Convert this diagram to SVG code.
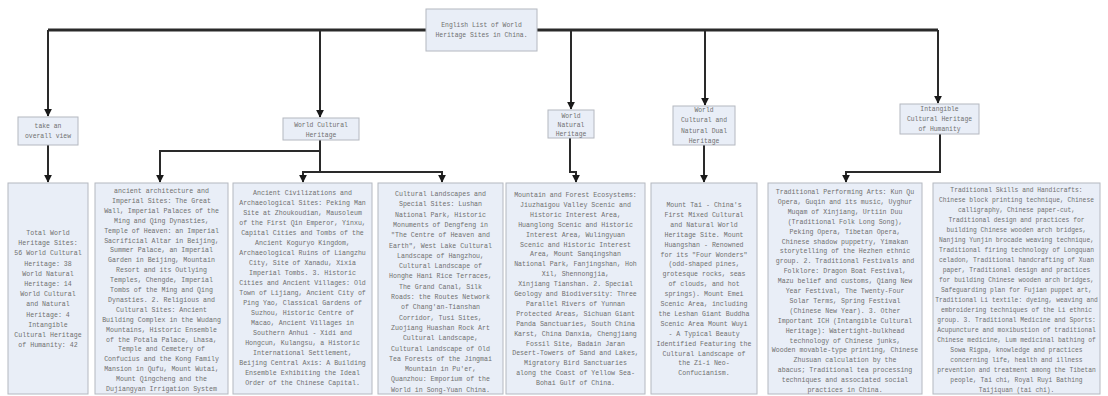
<svg xmlns="http://www.w3.org/2000/svg" width="1108" height="396" viewBox="0 0 1108 396">
<style>
.box{fill:#e9eef7;stroke:#b4b8c0;stroke-width:1}
.t{font-family:"Liberation Mono",monospace;font-size:6.6px;fill:#707070;text-anchor:middle}
.h{font-family:"Liberation Mono",monospace;font-size:6.4px;fill:#707070;text-anchor:middle}
.bus{fill:none;stroke:#2a2a2a;stroke-width:3}
.c{fill:none;stroke:#2a2a2a;stroke-width:2}
</style>
<defs>
<marker id="ah" viewBox="0 0 10 10" refX="9" refY="5" markerWidth="4" markerHeight="4" orient="auto" markerUnits="strokeWidth">
<path d="M0,0 L10,5 L0,10 z" fill="#1a1a1a"/>
</marker>
</defs>
<rect width="1108" height="396" fill="#ffffff"/>
<g id="connectors">
<path class="bus" d="M48,30 H426"/>
<path class="bus" d="M537,30 H938"/>
<path class="c" d="M48,30 V116" marker-end="url(#ah)"/>
<path class="c" d="M320,30 V117" marker-end="url(#ah)"/>
<path class="c" d="M571,30 V109" marker-end="url(#ah)"/>
<path class="c" d="M705,30 V105" marker-end="url(#ah)"/>
<path class="c" d="M938,30 V103" marker-end="url(#ah)"/>
<path class="c" d="M48,145 V182" marker-end="url(#ah)"/>
<path class="c" d="M320,140 V151 H160 V182" marker-end="url(#ah)"/>
<path class="c" d="M320,140 V172 H303 V182" marker-end="url(#ah)"/>
<path class="c" d="M320,172 H442 V182" marker-end="url(#ah)"/>
<path class="c" d="M570,138 V172 H576 V182" marker-end="url(#ah)"/>
<path class="c" d="M704,145 V182" marker-end="url(#ah)"/>
<path class="c" d="M940,134 V172 H846 V182" marker-end="url(#ah)"/>
</g>
<g id="root">
<rect class="box" x="426" y="9" width="111" height="42"/>
<text class="h" x="481.5" y="27"><tspan x="481.5">English List of World</tspan><tspan x="481.5" dy="10">Heritage Sites in China.</tspan></text>
</g>
<g id="n-overall">
<rect class="box" x="18" y="117" width="60" height="28"/>
<text class="h" x="48" y="128"><tspan x="48">take an</tspan><tspan x="48" dy="10">overall view</tspan></text>
</g>
<g id="n-cultural">
<rect class="box" x="283" y="118" width="76" height="22"/>
<text class="h" x="321" y="127"><tspan x="321">World Cultural</tspan><tspan x="321" dy="9.5">Heritage</tspan></text>
</g>
<g id="n-natural">
<rect class="box" x="548" y="110" width="46" height="28"/>
<text class="h" x="571" y="118"><tspan x="571">World</tspan><tspan x="571" dy="9">Natural</tspan><tspan x="571" dy="9">Heritage</tspan></text>
</g>
<g id="n-dual">
<rect class="box" x="673" y="106" width="62" height="39"/>
<text class="h" x="704" y="112"><tspan x="704">World</tspan><tspan x="704" dy="10">Cultural and</tspan><tspan x="704" dy="11">Natural Dual</tspan><tspan x="704" dy="10">Heritage</tspan></text>
</g>
<g id="n-intangible">
<rect class="box" x="900" y="104" width="79" height="30"/>
<text class="h" x="939.5" y="111"><tspan x="939.5">Intangible</tspan><tspan x="939.5" dy="9.5">Cultural Heritage</tspan><tspan x="939.5" dy="10">of Humanity</tspan></text>
</g>
<g id="leaf-total">
<rect class="box" x="8" y="183" width="80" height="211"/>
<text class="t" x="48" y="235"><tspan x="48">Total World</tspan><tspan x="48" dy="10.2">Heritage Sites:</tspan><tspan x="48" dy="10.2">56 World Cultural</tspan><tspan x="48" dy="10.2">Heritage: 38</tspan><tspan x="48" dy="10.2">World Natural</tspan><tspan x="48" dy="10.2">Heritage: 14</tspan><tspan x="48" dy="10.2">World Cultural</tspan><tspan x="48" dy="10.2">and Natural</tspan><tspan x="48" dy="10.2">Heritage: 4</tspan><tspan x="48" dy="10.2">Intangible</tspan><tspan x="48" dy="10.2">Cultural Heritage</tspan><tspan x="48" dy="10.2">of Humanity: 42</tspan></text>
</g>
<g id="leaf-architecture">
<rect class="box" x="95" y="183" width="133" height="211"/>
<text class="t" x="161.5" y="193"><tspan x="161.5">ancient architecture and</tspan><tspan x="161.5" dy="9.9">Imperial Sites: The Great</tspan><tspan x="161.5" dy="9.9">Wall, Imperial Palaces of the</tspan><tspan x="161.5" dy="9.9">Ming and Qing Dynasties,</tspan><tspan x="161.5" dy="9.9">Temple of Heaven: an Imperial</tspan><tspan x="161.5" dy="9.9">Sacrificial Altar in Beijing,</tspan><tspan x="161.5" dy="9.9">Summer Palace, an Imperial</tspan><tspan x="161.5" dy="9.9">Garden in Beijing, Mountain</tspan><tspan x="161.5" dy="9.9">Resort and its Outlying</tspan><tspan x="161.5" dy="9.9">Temples, Chengde, Imperial</tspan><tspan x="161.5" dy="9.9">Tombs of the Ming and Qing</tspan><tspan x="161.5" dy="9.9">Dynasties. 2. Religious and</tspan><tspan x="161.5" dy="9.9">Cultural Sites: Ancient</tspan><tspan x="161.5" dy="9.9">Building Complex in the Wudang</tspan><tspan x="161.5" dy="9.9">Mountains, Historic Ensemble</tspan><tspan x="161.5" dy="9.9">of the Potala Palace, Lhasa,</tspan><tspan x="161.5" dy="9.9">Temple and Cemetery of</tspan><tspan x="161.5" dy="9.9">Confucius and the Kong Family</tspan><tspan x="161.5" dy="9.9">Mansion in Qufu, Mount Wutai,</tspan><tspan x="161.5" dy="9.9">Mount Qingcheng and the</tspan><tspan x="161.5" dy="9.9">Dujiangyan Irrigation System</tspan></text>
</g>
<g id="leaf-civilizations">
<rect class="box" x="233" y="183" width="139" height="211"/>
<text class="t" x="302.5" y="195"><tspan x="302.5">Ancient Civilizations and</tspan><tspan x="302.5" dy="10">Archaeological Sites: Peking Man</tspan><tspan x="302.5" dy="10">Site at Zhoukoudian, Mausoleum</tspan><tspan x="302.5" dy="10">of the First Qin Emperor, Yinxu,</tspan><tspan x="302.5" dy="10">Capital Cities and Tombs of the</tspan><tspan x="302.5" dy="10">Ancient Koguryo Kingdom,</tspan><tspan x="302.5" dy="10">Archaeological Ruins of Liangzhu</tspan><tspan x="302.5" dy="10">City, Site of Xanadu, Xixia</tspan><tspan x="302.5" dy="10">Imperial Tombs. 3. Historic</tspan><tspan x="302.5" dy="10">Cities and Ancient Villages: Old</tspan><tspan x="302.5" dy="10">Town of Lijiang, Ancient City of</tspan><tspan x="302.5" dy="10">Ping Yao, Classical Gardens of</tspan><tspan x="302.5" dy="10">Suzhou, Historic Centre of</tspan><tspan x="302.5" dy="10">Macao, Ancient Villages in</tspan><tspan x="302.5" dy="10">Southern Anhui - Xidi and</tspan><tspan x="302.5" dy="10">Hongcun, Kulangsu, a Historic</tspan><tspan x="302.5" dy="10">International Settlement,</tspan><tspan x="302.5" dy="10">Beijing Central Axis: A Building</tspan><tspan x="302.5" dy="10">Ensemble Exhibiting the Ideal</tspan><tspan x="302.5" dy="10">Order of the Chinese Capital.</tspan></text>
</g>
<g id="leaf-landscapes">
<rect class="box" x="378" y="183" width="125" height="211"/>
<text class="t" x="440.5" y="196"><tspan x="440.5">Cultural Landscapes and</tspan><tspan x="440.5" dy="10.3">Special Sites: Lushan</tspan><tspan x="440.5" dy="10.3">National Park, Historic</tspan><tspan x="440.5" dy="10.3">Monuments of Dengfeng in</tspan><tspan x="440.5" dy="10.3">"The Centre of Heaven and</tspan><tspan x="440.5" dy="10.3">Earth", West Lake Cultural</tspan><tspan x="440.5" dy="10.3">Landscape of Hangzhou,</tspan><tspan x="440.5" dy="10.3">Cultural Landscape of</tspan><tspan x="440.5" dy="10.3">Honghe Hani Rice Terraces,</tspan><tspan x="440.5" dy="10.3">The Grand Canal, Silk</tspan><tspan x="440.5" dy="10.3">Roads: the Routes Network</tspan><tspan x="440.5" dy="10.3">of Chang'an-Tianshan</tspan><tspan x="440.5" dy="10.3">Corridor, Tusi Sites,</tspan><tspan x="440.5" dy="10.3">Zuojiang Huashan Rock Art</tspan><tspan x="440.5" dy="10.3">Cultural Landscape,</tspan><tspan x="440.5" dy="10.3">Cultural Landscape of Old</tspan><tspan x="440.5" dy="10.3">Tea Forests of the Jingmai</tspan><tspan x="440.5" dy="10.3">Mountain in Pu'er,</tspan><tspan x="440.5" dy="10.3">Quanzhou: Emporium of the</tspan><tspan x="440.5" dy="10.3">World in Song-Yuan China.</tspan></text>
</g>
<g id="leaf-ecosystems">
<rect class="box" x="506" y="183" width="139" height="211"/>
<text class="t" x="575.5" y="197"><tspan x="575.5">Mountain and Forest Ecosystems:</tspan><tspan x="575.5" dy="9.9">Jiuzhaigou Valley Scenic and</tspan><tspan x="575.5" dy="9.9">Historic Interest Area,</tspan><tspan x="575.5" dy="9.9">Huanglong Scenic and Historic</tspan><tspan x="575.5" dy="9.9">Interest Area, Wulingyuan</tspan><tspan x="575.5" dy="9.9">Scenic and Historic Interest</tspan><tspan x="575.5" dy="9.9">Area, Mount Sanqingshan</tspan><tspan x="575.5" dy="9.9">National Park, Fanjingshan, Hoh</tspan><tspan x="575.5" dy="9.9">Xil, Shennongjia,</tspan><tspan x="575.5" dy="9.9">Xinjiang Tianshan. 2. Special</tspan><tspan x="575.5" dy="9.9">Geology and Biodiversity: Three</tspan><tspan x="575.5" dy="9.9">Parallel Rivers of Yunnan</tspan><tspan x="575.5" dy="9.9">Protected Areas, Sichuan Giant</tspan><tspan x="575.5" dy="9.9">Panda Sanctuaries, South China</tspan><tspan x="575.5" dy="9.9">Karst, China Danxia, Chengjiang</tspan><tspan x="575.5" dy="9.9">Fossil Site, Badain Jaran</tspan><tspan x="575.5" dy="9.9">Desert-Towers of Sand and Lakes,</tspan><tspan x="575.5" dy="9.9">Migratory Bird Sanctuaries</tspan><tspan x="575.5" dy="9.9">along the Coast of Yellow Sea-</tspan><tspan x="575.5" dy="9.9">Bohai Gulf of China.</tspan></text>
</g>
<g id="leaf-dual">
<rect class="box" x="651" y="183" width="106" height="211"/>
<text class="t" x="704" y="207"><tspan x="704">Mount Tai  - China's</tspan><tspan x="704" dy="9.9">First Mixed Cultural</tspan><tspan x="704" dy="9.9">and Natural World</tspan><tspan x="704" dy="9.9">Heritage Site. Mount</tspan><tspan x="704" dy="9.9">Huangshan - Renowned</tspan><tspan x="704" dy="9.9">for its "Four Wonders"</tspan><tspan x="704" dy="9.9">(odd-shaped pines,</tspan><tspan x="704" dy="9.9">grotesque rocks, seas</tspan><tspan x="704" dy="9.9">of clouds, and hot</tspan><tspan x="704" dy="9.9">springs). Mount Emei</tspan><tspan x="704" dy="9.9">Scenic Area, including</tspan><tspan x="704" dy="9.9">the Leshan Giant Buddha</tspan><tspan x="704" dy="9.9">Scenic Area Mount Wuyi</tspan><tspan x="704" dy="9.9">- A Typical Beauty</tspan><tspan x="704" dy="9.9">Identified Featuring the</tspan><tspan x="704" dy="9.9">Cultural Landscape of</tspan><tspan x="704" dy="9.9">the Zi-i Neo-</tspan><tspan x="704" dy="9.9">Confucianism.</tspan></text>
</g>
<g id="leaf-performing">
<rect class="box" x="768" y="183" width="154" height="211"/>
<text class="t" x="845" y="194"><tspan x="845">Traditional Performing Arts: Kun Qu</tspan><tspan x="845" dy="9.9">Opera, Guqin and its music, Uyghur</tspan><tspan x="845" dy="9.9">Muqam of Xinjiang, Urtiin Duu</tspan><tspan x="845" dy="9.9">(Traditional Folk Long Song),</tspan><tspan x="845" dy="9.9">Peking Opera, Tibetan Opera,</tspan><tspan x="845" dy="9.9">Chinese shadow puppetry, Yimakan</tspan><tspan x="845" dy="9.9">storytelling of the Hezhen ethnic</tspan><tspan x="845" dy="9.9">group. 2. Traditional Festivals and</tspan><tspan x="845" dy="9.9">Folklore: Dragon Boat Festival,</tspan><tspan x="845" dy="9.9">Mazu belief and customs, Qiang New</tspan><tspan x="845" dy="9.9">Year Festival, The Twenty-Four</tspan><tspan x="845" dy="9.9">Solar Terms, Spring Festival</tspan><tspan x="845" dy="9.9">(Chinese New Year). 3. Other</tspan><tspan x="845" dy="9.9">Important ICH (Intangible Cultural</tspan><tspan x="845" dy="9.9">Heritage): Watertight-bulkhead</tspan><tspan x="845" dy="9.9">technology of Chinese junks,</tspan><tspan x="845" dy="9.9">Wooden movable-type printing, Chinese</tspan><tspan x="845" dy="9.9">Zhusuan calculation by the</tspan><tspan x="845" dy="9.9">abacus; Traditional tea processing</tspan><tspan x="845" dy="9.9">techniques and associated social</tspan><tspan x="845" dy="9.9">practices in China.</tspan></text>
</g>
<g id="leaf-handicrafts">
<rect class="box" x="933" y="183" width="167" height="211"/>
<text class="t" x="1016.5" y="192" style="font-size:6.3px"><tspan x="1016.5">Traditional Skills and Handicrafts:</tspan><tspan x="1016.5" dy="10">Chinese block printing technique, Chinese</tspan><tspan x="1016.5" dy="10">calligraphy, Chinese paper-cut,</tspan><tspan x="1016.5" dy="10">Traditional design and practices for</tspan><tspan x="1016.5" dy="10">building Chinese wooden arch bridges,</tspan><tspan x="1016.5" dy="10">Nanjing Yunjin brocade weaving technique,</tspan><tspan x="1016.5" dy="10">Traditional firing technology of Longquan</tspan><tspan x="1016.5" dy="10">celadon, Traditional handcrafting of Xuan</tspan><tspan x="1016.5" dy="10">paper, Traditional design and practices</tspan><tspan x="1016.5" dy="10">for building Chinese wooden arch bridges,</tspan><tspan x="1016.5" dy="10">Safeguarding plan for Fujian puppet art,</tspan><tspan x="1016.5" dy="10">Traditional Li textile: dyeing, weaving and</tspan><tspan x="1016.5" dy="10">embroidering techniques of the Li ethnic</tspan><tspan x="1016.5" dy="10">group. 3. Traditional Medicine and Sports:</tspan><tspan x="1016.5" dy="10">Acupuncture and moxibustion of traditional</tspan><tspan x="1016.5" dy="10">Chinese medicine, Lum medicinal bathing of</tspan><tspan x="1016.5" dy="10">Sowa Rigpa, knowledge and practices</tspan><tspan x="1016.5" dy="10">concerning life, health and illness</tspan><tspan x="1016.5" dy="10">prevention and treatment among the Tibetan</tspan><tspan x="1016.5" dy="10">people, Tai chi, Royal Ruyi Bathing</tspan><tspan x="1016.5" dy="10">Taijiquan (tai chi).</tspan></text>
</g>
</svg>
